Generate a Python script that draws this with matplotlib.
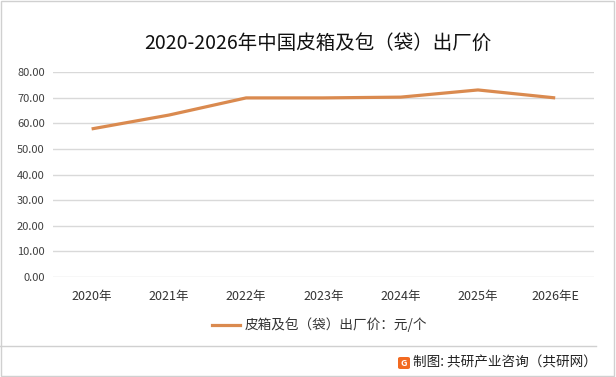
import matplotlib.pyplot as plt
from matplotlib.patches import FancyBboxPatch, Rectangle
from matplotlib.lines import Line2D

plt.rcParams['font.family'] = ['Noto Sans CJK SC', 'DejaVu Sans']

years = ['2020年', '2021年', '2022年', '2023年', '2024年', '2025年', '2026年E']
price = [57.8, 63.2, 69.9, 69.9, 70.2, 73.0, 69.9]
yticks = [0, 10, 20, 30, 40, 50, 60, 70, 80]

line_color = '#DA8A4F'

fig = plt.figure(figsize=(6.16, 3.77), dpi=100)
ax = fig.add_axes([0.086, 0.265, 0.878, 0.544])

x = list(range(len(years)))
ax.plot(x, price, color=line_color, lw=2.3, solid_capstyle='butt')

ax.set_xlim(-0.5, len(years) - 0.5)
ax.set_ylim(0, 80)
ax.set_yticks(yticks)
ax.set_yticklabels(['%.2f' % v for v in yticks], fontsize=8, color='#404040')
ax.set_xticks(x)
ax.set_xticklabels(years, fontsize=9, color='#333333')
ax.tick_params(length=0, pad=6)
ax.tick_params(axis='x', pad=9)
ax.grid(axis='y', color='#d9d9d9', lw=1)
ax.set_axisbelow(True)
for s in ax.spines.values():
    s.set_visible(False)

fig.text(0.516, 0.885, '2020-2026年中国皮箱及包（袋）出厂价', ha='center', va='center',
         fontsize=14, color='#111111')

# legend
lx0, ly = 212 / 616, 1 - 325 / 377
fig.add_artist(Line2D([lx0, lx0 + 28 / 616], [ly, ly], color=line_color, lw=2.3,
                      transform=fig.transFigure))
fig.text(lx0 + 33 / 616, ly, '皮箱及包（袋）出厂价：元/个', ha='left', va='center',
         fontsize=9.8, color='#333333')

# separator + footer
fig.add_artist(Line2D([0.0, 0.967], [1 - 346 / 377, 1 - 346 / 377], color='#d0d0d0',
                      lw=1, transform=fig.transFigure))
fig.add_artist(FancyBboxPatch((398 / 616, 1 - 369 / 377), 12 / 616, 12 / 377,
                              boxstyle='round,pad=0,rounding_size=0.004',
                              fc='#F26A21', ec='none', transform=fig.transFigure))
fig.text(404 / 616, 1 - 363 / 377, 'G', ha='center', va='center', fontsize=6.5,
         color='white', weight='bold')
fig.text(0.969, 1 - 363 / 377, '制图: 共研产业咨询（共研网）', ha='right', va='center',
         fontsize=9.8, color='#222222')

# outer border
fig.add_artist(Rectangle((0.002, 0.003), 0.995, 0.994, fill=False, ec='#d0d0d0',
                         lw=1, transform=fig.transFigure))

plt.savefig('out.png', dpi=100)
